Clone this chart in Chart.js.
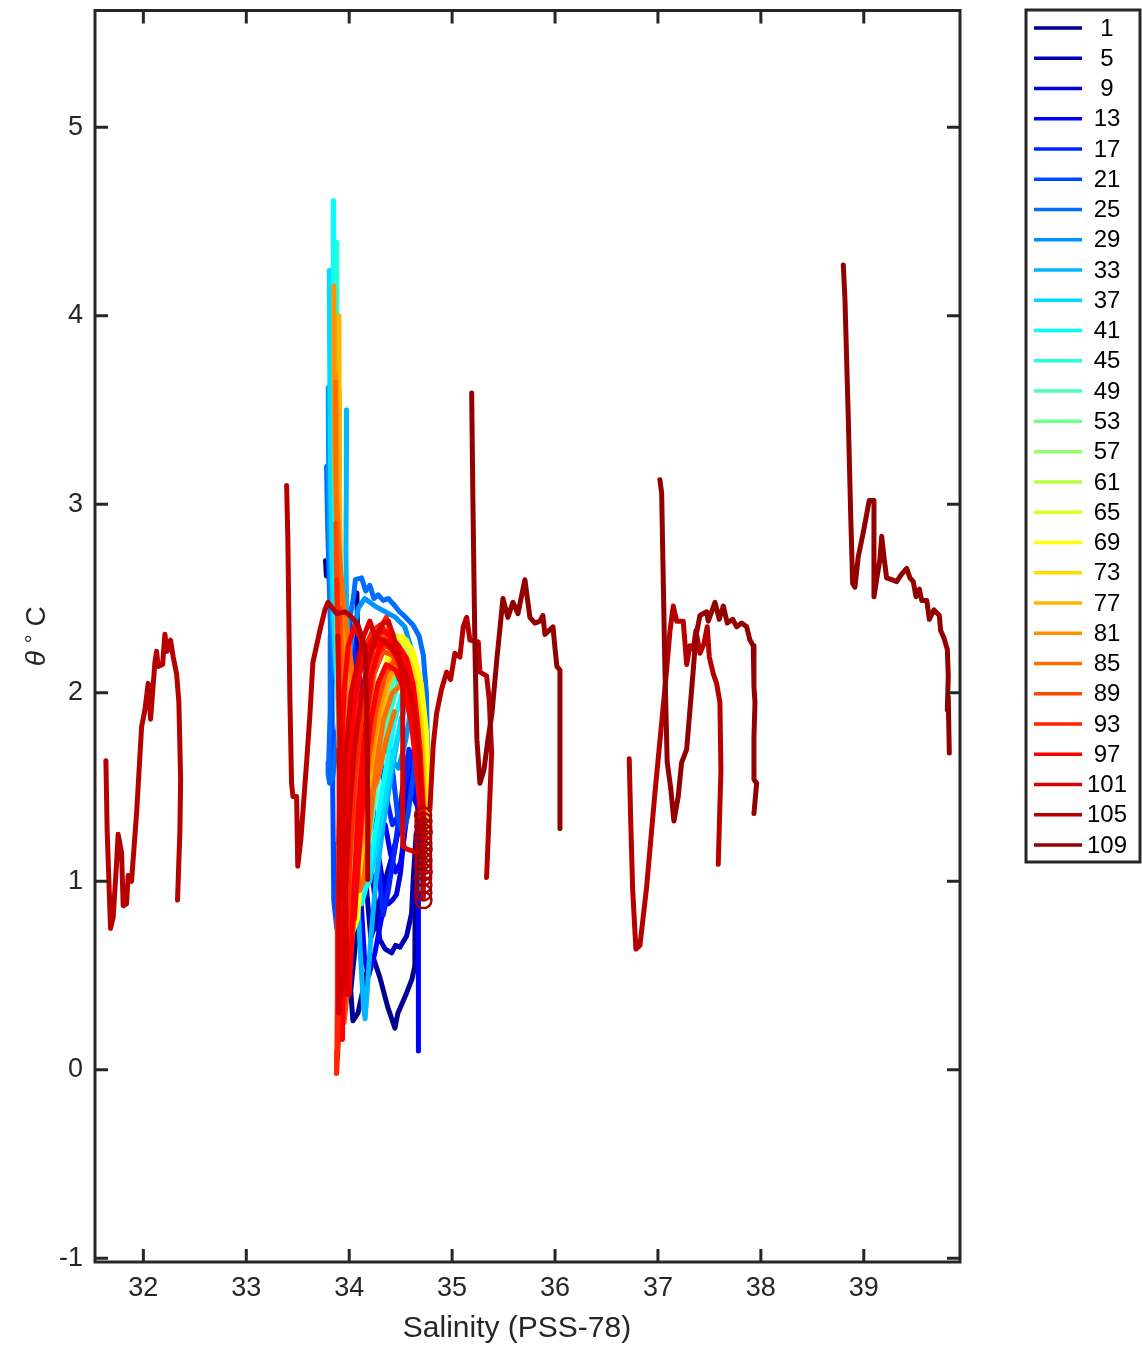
<!DOCTYPE html>
<html>
<head>
<meta charset="utf-8">
<script src="https://cdn.jsdelivr.net/npm/chart.js@4.4.1/dist/chart.umd.min.js"></script>
<style>
  html, body { margin: 0; padding: 0; background: #fff; }
  canvas { display: block; }
</style>
</head>
<body>
<canvas id="tsChart" width="1142" height="1348"></canvas>
<script>
const FONT = '"Liberation Sans", Arial, Helvetica, sans-serif';

// profile numbers shown in the legend, one jet colour each
const profileIds = [1, 5, 9, 13, 17, 21, 25, 29, 33, 37, 41, 45, 49, 53, 57, 61, 65, 69, 73, 77, 81, 85, 89, 93, 97, 101, 105, 109];
const jetColors = [
  '#000092', '#0000B6', '#0000DB', '#0000FF', '#0024FF', '#0049FF', '#006DFF',
  '#0092FF', '#00B6FF', '#00DBFF', '#00FFFF', '#24FFDB', '#49FFB6', '#6DFF92',
  '#92FF6D', '#B6FF49', '#DBFF24', '#FFFF00', '#FFDB00', '#FFB600', '#FF9200',
  '#FF6D00', '#FF4900', '#FF2400', '#FF0000', '#DB0000', '#B60000', '#920000'
];

const xTicks = [32, 33, 34, 35, 36, 37, 38, 39];
const yTicks = [-1, 0, 1, 2, 3, 4, 5];

// [salinity, theta] pairs, surface first; null = gap in the profile
const p001 = [[33.770,2.70],[33.778,2.62],null,
  [34.075,2.53],[34.080,2.36],[34.095,2.18],[34.115,1.85],[34.125,1.45],[34.105,1.05],[34.060,0.66],[34.015,0.42],
  [34.036,0.26],[34.085,0.30],[34.172,0.52],[34.230,0.60],[34.298,0.49],[34.376,0.33],[34.444,0.22],[34.473,0.30],
  [34.560,0.41],[34.609,0.48],[34.638,0.55],[34.640,0.92],[34.660,1.15],[34.700,1.30]];
const p005 = [[34.010,2.15],[34.050,1.90],[34.100,1.60],[34.160,1.30],[34.230,1.00],[34.298,0.69],[34.350,0.64],
  [34.412,0.62],[34.450,0.66],[34.493,0.65],[34.558,0.71],[34.606,0.83],[34.622,1.01],[34.650,1.25],[34.700,1.33],null,
  [34.060,1.60],[34.120,1.30],[34.170,0.95],[34.210,0.70],[34.260,0.78],[34.320,0.95],[34.400,1.10],[34.470,1.25],
  [34.530,1.45],[34.580,1.62],[34.630,1.55],[34.680,1.40]];
const p009 = [[34.040,2.35],[34.110,2.05],[34.170,1.70],[34.230,1.40],[34.290,1.12],[34.340,0.95],[34.379,0.88],
  [34.420,0.90],[34.460,0.93],[34.500,1.05],[34.540,1.28],[34.580,1.48],[34.620,1.45],[34.680,1.38],[34.720,1.32]];
const p013 = [[33.960,1.90],[34.020,1.60],[34.080,1.20],[34.120,0.85],[34.150,0.58],[34.190,0.50],[34.250,0.62],
  [34.330,0.85],[34.420,1.10],[34.500,1.35],[34.580,1.55],[34.640,1.50],[34.680,1.32],[34.672,0.90],[34.670,0.50],[34.675,0.10],null,
  [34.350,1.30],[34.400,1.15],[34.450,1.05],[34.500,1.10],[34.550,1.30],[34.600,1.50],[34.640,1.70],[34.670,1.60],[34.700,1.40]];
const p017 = [[34.000,2.40],[34.050,2.20],[34.120,1.90],[34.200,1.55],[34.260,1.22],[34.300,0.98],[34.330,0.82],
  [34.380,0.95],[34.450,1.20],[34.520,1.50],[34.580,1.70],[34.620,1.66],[34.660,1.50],[34.700,1.35],[34.720,1.20],null,
  [34.300,1.65],[34.360,1.45],[34.420,1.30],[34.480,1.35],[34.540,1.52],[34.600,1.68],[34.650,1.62],[34.690,1.45]];
const p021 = [[33.806,3.36],[33.810,3.00],[33.820,2.60],[33.830,2.20],[33.835,1.80],[33.840,1.48],[33.845,1.20],
  [33.850,0.90],[33.880,0.75],[33.940,0.80],[34.020,1.05],[34.100,1.30],[34.180,1.55],[34.260,1.80],[34.340,2.00],
  [34.420,2.10],[34.500,2.05],[34.580,1.95],[34.650,1.75],[34.700,1.50],[34.720,1.25],null,
  [34.380,1.75],[34.430,1.55],[34.470,1.35],[34.520,1.25],[34.570,1.35],[34.620,1.55],[34.660,1.75],[34.700,1.60],[34.720,1.40]];
const p025 = [[33.780,3.20],[33.790,2.90],[33.805,2.60],[33.820,2.30],[33.815,1.90],[33.800,1.63],[33.795,1.57],
  [33.810,1.52],[33.840,1.55],[33.880,1.75],[33.930,2.05],[33.990,2.35],[34.040,2.50],[34.060,2.60],[34.120,2.61],
  [34.160,2.54],[34.200,2.57],[34.240,2.50],[34.280,2.52],[34.330,2.49],[34.380,2.50],[34.430,2.47],[34.490,2.43],
  [34.550,2.40],[34.620,2.36],[34.680,2.30],[34.720,2.20],[34.750,2.00],[34.760,1.70],[34.750,1.40],[34.720,1.20]];
const p029 = [[33.796,3.62],[33.800,3.20],[33.810,2.80],[33.830,2.45],[33.860,2.15],[33.900,1.95],[33.960,2.05],
  [34.030,2.30],[34.090,2.45],[34.150,2.50],[34.250,2.46],[34.350,2.43],[34.450,2.40],[34.540,2.35],[34.610,2.22],
  [34.660,2.05],[34.700,1.80],[34.720,1.50],[34.720,1.20],[34.700,0.95],null,
  [34.250,2.00],[34.320,1.80],[34.400,1.65],[34.480,1.60],[34.550,1.75],[34.610,1.95],[34.660,1.90],[34.700,1.65]];
const p033 = [[33.975,3.50],[33.972,3.10],[33.968,2.75],[33.975,2.45],[33.990,2.10],[34.020,1.75],[34.050,1.35],
  [34.080,0.95],[34.110,0.60],[34.140,0.33],[34.155,0.27],[34.175,0.42],[34.210,0.70],[34.260,1.00],[34.330,1.30],
  [34.420,1.60],[34.500,1.85],[34.580,2.00],[34.650,1.90],[34.700,1.60],[34.720,1.30]];
const p037 = [[33.806,4.24],[33.810,3.80],[33.815,3.40],[33.820,3.10],[33.830,2.75],[33.845,2.45],[33.870,2.15],
  [33.910,1.85],[33.960,1.55],[34.020,1.25],[34.080,1.05],[34.140,0.95],[34.200,1.00],[34.270,1.20],[34.350,1.45],
  [34.440,1.70],[34.530,1.90],[34.610,1.95],[34.670,1.80],[34.710,1.50],[34.720,1.25]];
const p041 = [[33.845,4.61],[33.847,4.20],[33.850,3.70],[33.855,3.20],[33.865,2.75],[33.880,2.35],[33.905,1.95],
  [33.945,1.60],[34.000,1.25],[34.060,0.98],[34.120,0.88],[34.180,1.00],[34.250,1.25],[34.340,1.55],[34.440,1.85],
  [34.540,2.05],[34.620,2.00],[34.680,1.75],[34.720,1.40]];
const p045 = [[33.878,4.39],[33.880,3.90],[33.883,3.40],[33.887,2.95],[33.893,2.55],[33.910,2.15],[33.950,1.78],
  [34.000,1.48],[34.060,1.27],[34.130,1.20],[34.210,1.35],[34.300,1.60],[34.400,1.90],[34.500,2.10],[34.590,2.10],
  [34.660,1.90],[34.710,1.55],[34.720,1.25]];
const p049 = [[33.880,2.40],[33.885,2.10],[33.895,1.80],[33.920,1.50],[33.960,1.20],[34.020,1.00],[34.090,0.95],
  [34.160,1.10],[34.240,1.40],[34.330,1.75],[34.420,2.05],[34.520,2.20],[34.600,2.15],[34.670,1.95],[34.720,1.60],[34.730,1.30]];
const p053 = [[33.890,2.30],[33.900,2.00],[33.910,1.70],[33.940,1.40],[33.990,1.15],[34.060,1.05],[34.140,1.20],
  [34.220,1.50],[34.300,1.85],[34.380,2.15],[34.470,2.30],[34.560,2.28],[34.640,2.10],[34.700,1.80],[34.730,1.45]];
const p057 = [[33.900,2.20],[33.905,1.90],[33.920,1.60],[33.960,1.30],[34.030,1.15],[34.100,1.30],[34.170,1.65],
  [34.230,2.00],[34.280,2.28],[34.350,2.35],[34.450,2.30],[34.550,2.25],[34.630,2.12],[34.700,1.85],[34.740,1.50]];
const p061 = [[33.910,2.10],[33.920,1.80],[33.950,1.50],[34.000,1.30],[34.070,1.40],[34.140,1.75],[34.200,2.10],
  [34.250,2.30],[34.320,2.35],[34.420,2.32],[34.520,2.28],[34.600,2.20],[34.680,2.00],[34.730,1.70],[34.750,1.40]];
const p065 = [[33.900,2.50],[33.910,2.10],[33.930,1.70],[33.970,1.35],[34.030,1.10],[34.090,1.00],[34.150,1.20],
  [34.220,1.60],[34.300,1.95],[34.380,2.20],[34.480,2.28],[34.580,2.25],[34.660,2.10],[34.720,1.90],[34.760,1.60],[34.760,1.30]];
const p069 = [[33.880,2.80],[33.890,2.40],[33.900,2.00],[33.920,1.60],[33.960,1.20],[34.000,0.90],[34.040,0.74],
  [34.080,0.80],[34.120,1.05],[34.180,1.40],[34.250,1.80],[34.330,2.10],[34.420,2.27],[34.520,2.30],[34.620,2.22],
  [34.700,2.05],[34.750,1.80],[34.770,1.50],[34.760,1.25]];
const p073 = [[33.900,2.60],[33.905,2.20],[33.920,1.80],[33.950,1.40],[33.990,1.10],[34.050,0.95],[34.110,1.10],
  [34.180,1.45],[34.260,1.80],[34.340,2.05],[34.430,2.20],[34.530,2.22],[34.620,2.12],[34.690,1.90],[34.730,1.60],[34.740,1.30]];
const p077 = [[33.900,4.00],[33.902,3.60],[33.906,3.10],[33.915,2.70],[33.930,2.30],[33.960,1.95],[34.000,1.60],
  [34.050,1.30],[34.100,1.15],[34.160,1.25],[34.230,1.55],[34.300,1.85],[34.380,2.05],[34.470,2.15],[34.560,2.12],
  [34.640,2.00],[34.700,1.75],[34.730,1.45],[34.730,1.20],null,
  [33.890,2.55],[33.900,2.20],[33.905,1.80],[33.910,1.40],[33.915,1.00],[33.920,0.70]];
const p081 = [[33.851,4.16],[33.854,3.70],[33.862,3.20],[33.880,2.80],[33.910,2.50],[33.950,2.25],[34.000,2.00],
  [34.040,1.80],[34.090,1.60],[34.140,1.50],[34.200,1.60],[34.270,1.85],[34.350,2.05],[34.440,2.15],[34.530,2.10],
  [34.610,1.95],[34.670,1.75],[34.710,1.45],[34.720,1.20],null,
  [33.870,2.75],[33.890,2.45],[33.920,2.15],[33.950,1.85],[33.975,1.50],[33.990,1.15],[34.000,0.85],null,
  [33.900,2.65],[33.940,2.40],[33.990,2.15],[34.040,1.90],[34.090,1.65],[34.130,1.40],[34.160,1.20]];
const p085 = [[33.868,3.65],[33.872,3.20],[33.882,2.80],[33.905,2.45],[33.940,2.15],[33.990,1.85],[34.030,1.60],
  [34.060,1.35],[34.080,1.10],[34.100,0.95],[34.140,1.00],[34.200,1.30],[34.260,1.60],[34.330,1.85],[34.420,2.00],
  [34.520,2.05],[34.600,1.95],[34.660,1.75],[34.700,1.45],null,
  [33.880,2.70],[33.900,2.40],[33.920,2.10],[33.940,1.80],[33.960,1.50],[33.980,1.20],[34.000,0.95],[34.010,0.70],null,
  [33.880,3.00],[33.910,2.70],[33.950,2.45],[34.000,2.25],[34.050,2.00],[34.100,1.75],[34.150,1.55],[34.210,1.45],
  [34.280,1.55],[34.360,1.75],[34.440,1.90]];
const p089 = [[33.870,2.90],[33.880,2.50],[33.900,2.20],[33.930,1.90],[33.960,1.60],[33.990,1.30],[34.000,1.00],
  [33.990,0.75],[33.960,0.50],[33.930,0.30],[33.950,0.25],[34.000,0.50],[34.060,0.90],[34.120,1.30],[34.190,1.65],
  [34.260,1.90],[34.350,2.10],[34.450,2.18],[34.550,2.12],[34.630,1.95],[34.690,1.65],[34.720,1.35],null,
  [33.905,2.45],[33.910,2.00],[33.915,1.50],[33.915,1.00],[33.910,0.60],[33.915,0.30],null,
  [34.020,0.70],[34.060,1.10],[34.110,1.50],[34.170,1.85],[34.240,2.10],[34.330,2.22],[34.420,2.20],[34.500,2.12],
  [34.580,2.00],[34.640,1.80],[34.690,1.55],null,
  [33.960,0.70],[34.000,1.05],[34.050,1.45],[34.100,1.80],[34.160,2.05],[34.230,2.22],[34.310,2.30],[34.400,2.30],
  [34.490,2.22],[34.570,2.08],[34.630,1.88],[34.680,1.60],[34.710,1.35]];
const p093 = [[33.880,2.60],[33.890,2.30],[33.900,2.00],[33.905,1.60],[33.900,1.20],[33.890,0.80],[33.885,0.40],
  [33.880,0.10],[33.877,-0.02],[33.890,0.10],[33.920,0.40],[33.960,0.80],[34.000,1.20],[34.050,1.55],[34.110,1.85],
  [34.180,2.05],[34.260,2.20],[34.350,2.25],[34.450,2.22],[34.550,2.15],[34.630,2.00],[34.690,1.70],[34.720,1.38],null,
  [33.950,0.35],[33.980,0.80],[34.020,1.30],[34.070,1.70],[34.130,2.00],[34.200,2.20],[34.280,2.32],[34.360,2.40],
  [34.420,2.30],[34.500,2.20],[34.580,2.10],[34.640,1.95],[34.690,1.70],[34.720,1.40],null,
  [33.910,0.20],[33.930,0.60],[33.960,1.10],[34.000,1.55],[34.050,1.90],[34.100,2.10],[34.160,2.25],[34.230,2.33],
  [34.300,2.36],[34.370,2.32],[34.450,2.25],[34.530,2.15],[34.600,2.00],[34.660,1.75],[34.700,1.45]];
const p097 = [[33.935,0.16],[33.940,0.50],[33.950,0.90],[33.970,1.30],[34.000,1.65],[34.050,1.95],[34.110,2.12],
  [34.180,2.24],[34.250,2.30],[34.330,2.33],[34.400,2.30],[34.480,2.25],[34.560,2.18],[34.620,2.05],[34.670,1.80],
  [34.700,1.50],[34.720,1.30],null,
  [33.900,1.20],[33.920,1.60],[33.950,2.00],[33.990,2.25],[34.050,2.35],[34.100,2.30],[34.150,2.20],[34.250,2.25],
  [34.350,2.28],[34.450,2.20],[34.530,2.10],[34.600,1.95],[34.650,1.70],[34.680,1.45],[34.700,1.25],null,
  [34.000,0.40],[34.040,0.90],[34.090,1.40],[34.150,1.80],[34.220,2.10],[34.300,2.25],[34.400,2.28],[34.500,2.18],
  [34.580,2.05],[34.640,1.85],[34.690,1.60],[34.720,1.35],null,
  [34.050,0.80],[34.100,1.20],[34.150,1.55],[34.210,1.85],[34.280,2.05],[34.360,2.15],[34.450,2.12],[34.530,2.02],
  [34.600,1.85],[34.650,1.62],[34.690,1.38]];
const p101 = [[33.900,1.70],[33.905,1.40],[33.900,1.00],[33.895,0.60],[33.900,0.30],[33.930,0.45],[33.960,0.90],
  [34.000,1.35],[34.050,1.70],[34.110,1.95],[34.180,2.15],[34.260,2.30],[34.330,2.37],[34.380,2.38],[34.430,2.30],
  [34.480,2.20],[34.520,2.05],[34.520,1.96],[34.520,1.60],[34.520,1.19],[34.560,1.17],[34.620,1.16],[34.680,1.15],[34.720,1.15],null,
  [33.920,0.90],[33.940,1.30],[33.970,1.70],[34.020,2.00],[34.080,2.15],[34.140,2.30],[34.200,2.38],[34.250,2.30],
  [34.320,2.28],[34.400,2.25],[34.480,2.18],[34.560,2.08],[34.630,1.90],[34.680,1.65],[34.710,1.40],null,
  [33.890,2.30],[33.900,1.95],[33.920,1.60],[33.950,1.20],[33.970,0.80],[33.980,0.40]];
const p105 = [
  [31.636,1.64],[31.648,1.27],[31.681,0.75],[31.707,0.81],[31.740,1.10],[31.755,1.25],[31.788,1.15],[31.804,0.87],
  [31.837,0.88],[31.852,1.03],[31.885,1.00],[31.934,1.36],[31.983,1.82],[32.015,1.91],[32.047,2.05],[32.070,1.86],
  [32.112,2.16],[32.128,2.22],[32.144,2.14],[32.187,2.15],[32.209,2.31],[32.231,2.22],[32.264,2.28],[32.290,2.19],
  [32.323,2.10],[32.345,1.95],[32.362,1.54],[32.355,1.27],[32.332,0.90],null,
  [33.392,3.10],[33.404,2.81],[33.424,1.96],[33.440,1.52],[33.453,1.45],[33.489,1.45],[33.500,1.08],[33.530,1.22],
  [33.586,1.63],[33.618,1.88],[33.647,2.16],[33.715,2.33],[33.764,2.44],[33.793,2.48],[33.880,2.42],[33.960,2.43],
  [34.026,2.40],[34.085,2.36],[34.153,2.24],[34.170,1.96],[34.180,1.43],[34.180,1.01],null,
  [34.784,1.38],[34.816,1.72],[34.849,1.89],[34.898,2.02],[34.947,2.11],[34.985,2.07],[35.027,2.21],[35.076,2.19],
  [35.108,2.35],[35.141,2.40],[35.173,2.28],[35.254,2.27],[35.270,2.11],[35.335,2.09],[35.361,1.96],[35.384,1.68],
  [35.367,1.45],[35.335,1.02],null,
  [36.721,1.65],[36.735,1.33],[36.754,0.96],[36.786,0.64],[36.825,0.66],[36.890,0.97],[36.971,1.47],[37.036,1.84],
  [37.084,2.12],[37.117,2.33],[37.149,2.46],[37.182,2.38],[37.246,2.38],[37.279,2.15],[37.311,2.25],[37.343,2.23],
  [37.369,2.33],[37.408,2.21],[37.447,2.26],[37.479,2.35],[37.499,2.19],[37.538,2.10],[37.570,2.05],[37.602,1.95],
  [37.612,1.59],[37.586,1.09]];
const p109 = [
  [35.190,3.59],[35.202,3.02],[35.222,2.23],[35.241,1.75],[35.270,1.52],[35.309,1.59],[35.348,1.75],[35.387,1.89],
  [35.435,2.18],[35.494,2.50],[35.542,2.40],[35.591,2.48],[35.640,2.42],[35.707,2.60],[35.756,2.40],[35.805,2.37],
  [35.853,2.38],[35.882,2.41],[35.902,2.31],[35.980,2.35],[35.999,2.24],[36.018,2.14],[36.048,2.12],[36.048,1.70],
  [36.048,1.28],null,
  [37.019,3.13],[37.036,3.06],[37.068,2.12],[37.090,1.63],[37.123,1.50],[37.155,1.32],[37.197,1.45],[37.230,1.63],
  [37.279,1.70],[37.311,1.91],[37.343,2.12],[37.369,2.30],[37.408,2.41],[37.473,2.43],[37.489,2.38],[37.554,2.48],
  [37.596,2.39],[37.635,2.46],[37.674,2.37],[37.726,2.39],[37.765,2.35],[37.813,2.37],[37.862,2.35],[37.894,2.28],
  [37.926,2.25],[37.933,2.03],[37.943,1.95],[37.933,1.77],[37.933,1.54],[37.959,1.52],[37.933,1.36],null,
  [38.801,4.27],[38.817,4.09],[38.849,3.47],[38.873,2.94],[38.892,2.58],[38.914,2.56],[38.946,2.72],[38.995,2.85],
  [39.053,3.02],[39.099,3.02],[39.099,2.51],[39.125,2.60],[39.157,2.71],[39.174,2.83],[39.196,2.72],[39.222,2.61],
  [39.271,2.60],[39.320,2.59],[39.368,2.63],[39.417,2.66],[39.449,2.61],[39.481,2.59],[39.507,2.51],[39.540,2.55],
  [39.563,2.49],[39.612,2.49],[39.637,2.39],[39.682,2.44],[39.734,2.41],[39.747,2.33],[39.780,2.29],[39.812,2.23],
  [39.821,2.09],[39.812,1.91],[39.821,1.98],[39.831,1.68]];

const profiles = [p001, p005, p009, p013, p017, p021, p025, p029, p033, p037, p041, p045, p049, p053,
  p057, p061, p065, p069, p073, p077, p081, p085, p089, p093, p097, p101, p105, p109];

// deep samples plotted with circle markers
const ringS = [34.718, 34.722, 34.720, 34.724, 34.719, 34.721, 34.723, 34.718, 34.722, 34.720, 34.724, 34.719, 34.721, 34.720, 34.722];
const ringT = [1.35, 1.32, 1.29, 1.26, 1.23, 1.20, 1.17, 1.14, 1.11, 1.08, 1.05, 1.02, 0.98, 0.94, 0.90];

function toPoints(pairs) {
  return pairs.map(p => (p ? { x: p[0], y: p[1] } : { x: null, y: null }));
}

const datasets = profiles.map((pr, i) => ({
  label: String(profileIds[i]),
  data: toPoints(pr),
  showLine: true,
  borderColor: jetColors[i],
  borderWidth: 5,
  pointRadius: 0,
  borderJoinStyle: 'round',
  borderCapStyle: 'round',
  tension: 0,
  spanGaps: false,
  order: profiles.length + 1 - i
}));

datasets.push({
  label: '',
  data: ringS.map((s, i) => ({ x: s, y: ringT[i] })),
  showLine: true,
  borderColor: '#C80000',
  borderWidth: 5,
  pointRadius: 8,
  pointStyle: 'circle',
  pointBorderColor: '#A80000',
  pointBackgroundColor: 'rgba(0,0,0,0)',
  pointBorderWidth: 2.5,
  order: 0
});

const framePlugin = {
  id: 'frame',
  afterDatasetsDraw(chart) {
    const { ctx, chartArea: a, scales: { x, y } } = chart;
    ctx.save();
    ctx.strokeStyle = '#262626';
    ctx.lineWidth = 3;
    ctx.strokeRect(a.left, a.top, a.right - a.left, a.bottom - a.top);
    ctx.beginPath();
    xTicks.forEach(v => {
      const px = x.getPixelForValue(v);
      ctx.moveTo(px, a.bottom); ctx.lineTo(px, a.bottom - 13);
      ctx.moveTo(px, a.top); ctx.lineTo(px, a.top + 13);
    });
    yTicks.forEach(v => {
      const py = y.getPixelForValue(v);
      ctx.moveTo(a.left, py); ctx.lineTo(a.left + 13, py);
      ctx.moveTo(a.right, py); ctx.lineTo(a.right - 13, py);
    });
    ctx.stroke();
    ctx.restore();
  }
};

const axisLabelPlugin = {
  id: 'axisLabels',
  afterDraw(chart) {
    const ctx = chart.ctx;
    const a = chart.chartArea;
    ctx.save();
    ctx.fillStyle = '#262626';
    ctx.font = '30px ' + FONT;
    ctx.textAlign = 'center';
    ctx.textBaseline = 'alphabetic';
    ctx.fillText('Salinity (PSS-78)', 517, 1337);

    ctx.translate(45, (a.top + a.bottom) / 2);
    ctx.rotate(-Math.PI / 2);
    ctx.textAlign = 'left';
    const parts = [
      { t: '\u03B8', f: 'italic 28px ' + FONT, dy: 0 },
      { t: ' ', f: '28px ' + FONT, dy: 0 },
      { t: '\u00B0', f: '22px ' + FONT, dy: -4 },
      { t: ' C', f: '28px ' + FONT, dy: 0 }
    ];
    let total = 0;
    parts.forEach(p => { ctx.font = p.f; p.w = ctx.measureText(p.t).width; total += p.w; });
    let cx = -total / 2;
    parts.forEach(p => { ctx.font = p.f; ctx.fillText(p.t, cx, p.dy); cx += p.w; });
    ctx.restore();
  }
};

const legendPlugin = {
  id: 'boxLegend',
  afterDraw(chart) {
    const ctx = chart.ctx;
    const left = 1026, top = 10, right = 1140, bottom = 862;
    ctx.save();
    ctx.fillStyle = '#ffffff';
    ctx.fillRect(left, top, right - left, bottom - top);
    ctx.strokeStyle = '#262626';
    ctx.lineWidth = 3;
    ctx.strokeRect(left, top, right - left, bottom - top);
    const first = 28, last = 845;
    const step = (last - first) / (profileIds.length - 1);
    ctx.font = '24px ' + FONT;
    ctx.textAlign = 'center';
    ctx.textBaseline = 'middle';
    profileIds.forEach((id, i) => {
      const yy = first + i * step;
      ctx.strokeStyle = jetColors[i];
      ctx.lineWidth = 3.5;
      ctx.beginPath();
      ctx.moveTo(1034, yy);
      ctx.lineTo(1082, yy);
      ctx.stroke();
      ctx.fillStyle = '#000000';
      ctx.fillText(String(id), 1107, yy + 1);
    });
    ctx.restore();
  }
};

new Chart(document.getElementById('tsChart'), {
  type: 'scatter',
  data: { datasets },
  options: {
    responsive: false,
    animation: false,
    events: [],
    devicePixelRatio: 1,
    layout: { padding: { left: 0, top: 10, right: 182, bottom: 0 } },
    plugins: {
      legend: { display: false },
      tooltip: { enabled: false },
      title: { display: false }
    },
    scales: {
      x: {
        type: 'linear',
        min: 31.53,
        max: 39.935,
        afterBuildTicks: s => { s.ticks = xTicks.map(v => ({ value: v })); },
        afterFit: s => { s.height = 86; s.paddingLeft = 0; s.paddingRight = 0; },
        grid: { display: false, drawTicks: false },
        border: { display: false },
        ticks: {
          font: { family: FONT, size: 27 },
          color: '#262626',
          padding: 10,
          maxRotation: 0,
          autoSkip: false
        }
      },
      y: {
        type: 'linear',
        min: -1.02,
        max: 5.62,
        afterBuildTicks: s => { s.ticks = yTicks.map(v => ({ value: v })); },
        afterFit: s => { s.width = 95; s.paddingTop = 0; s.paddingBottom = 0; },
        grid: { display: false, drawTicks: false },
        border: { display: false },
        ticks: {
          font: { family: FONT, size: 27 },
          color: '#262626',
          padding: 12,
          autoSkip: false
        }
      }
    }
  },
  plugins: [framePlugin, axisLabelPlugin, legendPlugin]
});
</script>
</body>
</html>
